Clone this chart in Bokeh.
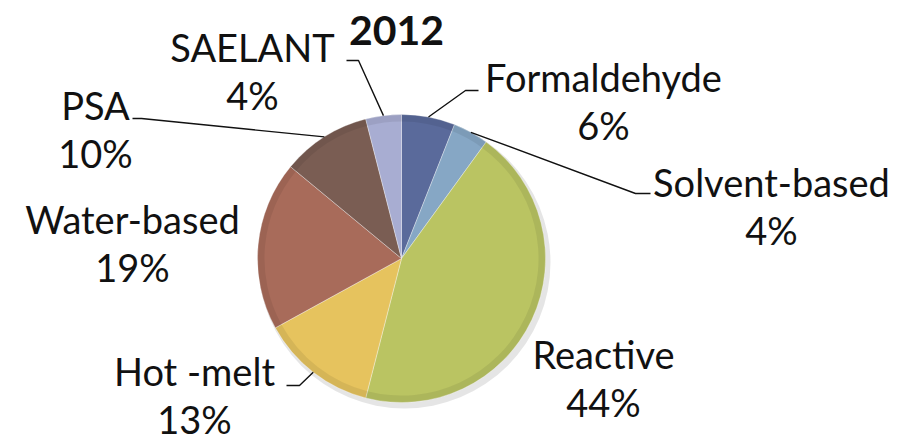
import math
from bokeh.plotting import figure
from bokeh.models import Range1d, ColumnDataSource
from bokeh.core.properties import value
from bokeh.embed import file_html
from bokeh.resources import INLINE

# ---- data ----
categories = ["Formaldehyde", "Solvent-based", "Reactive", "Hot -melt", "Water-based", "PSA", "SAELANT"]
shares = [6, 4, 44, 13, 19, 10, 4]
colors = ["#5a6a9b", "#86a7c5", "#bac462", "#e6c35e", "#a86b5a", "#7a5d53", "#a8add2"]
title = "2012"

# ---- layout (page pixel coordinates, y downwards) ----
W, H = 907, 440
CX, CY, R = 401, 258, 144
# label centre x, name baseline y
label_pos = {
    "Formaldehyde": (603, 90),
    "Solvent-based": (771, 195),
    "Reactive": (603, 367),
    "Hot -melt": (194, 384),
    "Water-based": (132, 232),
    "PSA": (95, 118),
    "SAELANT": (252, 60),
}
# leader elbow: (outer end x, elbow x, y)
elbows = {
    "Formaldehyde": (478, 465, 90),
    "Solvent-based": (650, 635, 193),
    "Hot -melt": (286, 299, 385),
    "PSA": (132, 141, 118),
    "SAELANT": (346, 358, 60),
}
LINE_GAP = 48
FS = "38px"
SHIFT = 14  # renderer places alphabetic baseline lower than requested

def py(y):  # image y -> data y
    return H - y

p = figure(width=W, height=H, output_backend="svg", toolbar_location=None,
           x_range=Range1d(0, W), y_range=Range1d(0, H),
           min_border=0)
p.axis.visible = False
p.grid.visible = False
p.outline_line_color = None
p.background_fill_color = "white"
p.border_fill_color = "white"

total = sum(shares)
starts, ends, mids = [], [], []
cum = 0.0
for v in shares:
    a0 = math.pi / 2 - 2 * math.pi * cum / total
    cum += v
    a1 = math.pi / 2 - 2 * math.pi * cum / total
    starts.append(a1)
    ends.append(a0)
    mids.append((a0 + a1) / 2)

# soft shadow
p.wedge(x=CX + 3, y=py(CY + 4), radius=R + 2, start_angle=0, end_angle=2 * math.pi,
        fill_color="#000000", fill_alpha=0.10, line_color=None)

src = ColumnDataSource(dict(start=starts, end=ends, color=colors))
p.wedge(x=CX, y=py(CY), radius=R, start_angle="start", end_angle="end",
        fill_color="color", line_color="white", line_alpha=0.35, line_width=1, source=src)
# bevel rim
p.annular_wedge(x=CX, y=py(CY), inner_radius=R - 7, outer_radius=R, start_angle="start",
                end_angle="end", fill_color="#000000", fill_alpha=0.07, line_color=None, source=src)

font = value("Lato")
names, pcts, xs, ys, ys2 = [], [], [], [], []
for cat, v in zip(categories, shares):
    x, y = label_pos[cat]
    xs.append(x)
    ys.append(py(y - SHIFT))
    ys2.append(py(y + LINE_GAP - SHIFT))
    names.append(cat)
    pcts.append(f"{v}%")
p.text(x=xs, y=ys, text=names, text_font=font, text_font_size=FS, text_color="#111111",
       text_align="center", text_baseline="alphabetic")
p.text(x=xs, y=ys2, text=pcts, text_font=font, text_font_size=FS, text_color="#111111",
       text_align="center", text_baseline="alphabetic")

# leader lines
for cat, m in zip(categories, mids):
    if cat not in elbows:
        continue
    ox, ex, ey = elbows[cat]
    tx = CX + R * math.cos(m)
    ty = CY - R * math.sin(m)
    p.line(x=[ox, ex, tx], y=[py(ey), py(ey), py(ty)], line_color="#111111", line_width=1.4)

p.text(x=[396], y=[py(45 - 15)], text=[title], text_font=font, text_font_style="bold",
       text_font_size="41px", text_color="#111111", text_align="center", text_baseline="alphabetic")

open("out.html", "w").write(file_html(p, INLINE))
